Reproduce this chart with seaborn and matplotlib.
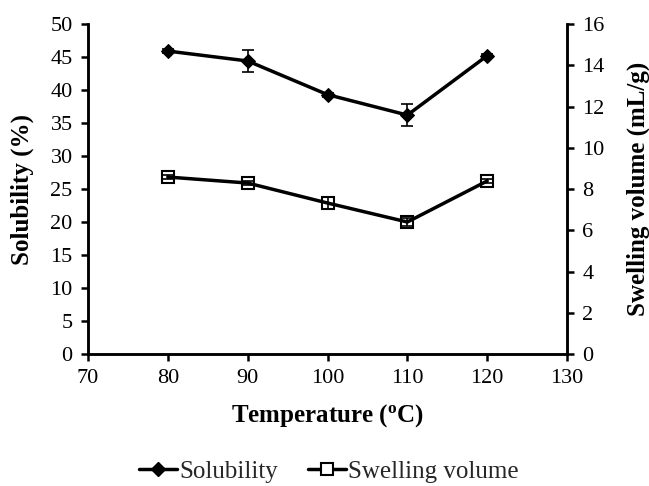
import pandas as pd
import matplotlib
matplotlib.use("Agg")
import matplotlib.pyplot as plt
import seaborn as sns
from matplotlib.lines import Line2D

sns.set_style("ticks")
plt.rcParams['font.family'] = ['Liberation Serif', 'DejaVu Serif']
plt.rcParams['mathtext.fontset'] = 'custom'
plt.rcParams['mathtext.rm'] = 'Liberation Serif'
plt.rcParams['mathtext.bf'] = 'Liberation Serif:bold'

# datos
temperature = [80, 90, 100, 110, 120]
solubility = [45.9, 44.4, 39.3, 36.2, 45.2]
solubility_err = [0.3, 1.7, 0.3, 1.7, 0.2]
swelling = [8.58, 8.29, 7.32, 6.40, 8.39]
swelling_err = [0.1, 0.1, 0.3, 0.2, 0.1]

df = pd.DataFrame({"temp": temperature, "sol": solubility, "sol_err": solubility_err,
                   "swell": swelling, "swell_err": swelling_err})

fig = plt.figure(figsize=(6.49, 4.86), dpi=100)
ax = fig.add_axes([0.1356, 0.2716, 0.7381, 0.679])
ax2 = ax.twinx()

#Solubilidad (eje izquierdo)
ax.errorbar(df["temp"], df["sol"], yerr=df["sol_err"], fmt="none", ecolor="black",
            elinewidth=1.2, capsize=4, capthick=1.2, zorder=2)
sns.lineplot(data=df, x="temp", y="sol", ax=ax, color="black", linewidth=2.5,
             marker="D", markersize=7, markerfacecolor="black", markeredgecolor="black", zorder=3)

#Volumen de hinchamiento (eje derecho)
ax2.errorbar(df["temp"], df["swell"], yerr=df["swell_err"], fmt="none", ecolor="black",
             elinewidth=1.2, capsize=4, capthick=1.2, zorder=2)
sns.lineplot(data=df, x="temp", y="swell", ax=ax2, color="black", linewidth=2.5,
             marker="s", markersize=9, markerfacecolor="none", markeredgecolor="black",
             markeredgewidth=1.5, zorder=3)

ax.set_xlim(70, 130)
ax.set_ylim(0, 50)
ax2.set_ylim(0, 16)
ax.set_xticks(range(70, 131, 10))
ax.set_yticks(range(0, 51, 5))
ax2.set_yticks(range(0, 17, 2))

ax.set_xlabel(r"Temperature ($\mathbf{^o}$C)", fontsize=18, fontweight="bold", labelpad=10, color="black")
ax.set_ylabel("Solubility (%)", fontsize=18, fontweight="bold", labelpad=12, color="black")
ax2.set_ylabel("Swelling volume (mL/g)", fontsize=18, fontweight="bold", labelpad=16, color="black")

for a in (ax, ax2):
    a.tick_params(axis="both", labelsize=16, width=1.8, length=5, pad=6, direction="out", colors="black")
    for s in a.spines.values():
        s.set_linewidth(1.8)
        s.set_color("black")
ax.spines["top"].set_visible(False)
ax2.spines["top"].set_visible(False)

handles = [Line2D([], [], color="black", linewidth=2.5, marker="D", markersize=7),
           Line2D([], [], color="black", linewidth=2.5, marker="s", markersize=9,
                  markerfacecolor="white", markeredgewidth=1.5)]
fig.legend(handles, ["Solubility", "Swelling volume"], loc="center", bbox_to_anchor=(0.507, 0.03),
           ncol=2, frameon=False, fontsize=18, handlelength=1.5, handletextpad=0.1, columnspacing=1.2)

plt.savefig("out.png", dpi=100)
